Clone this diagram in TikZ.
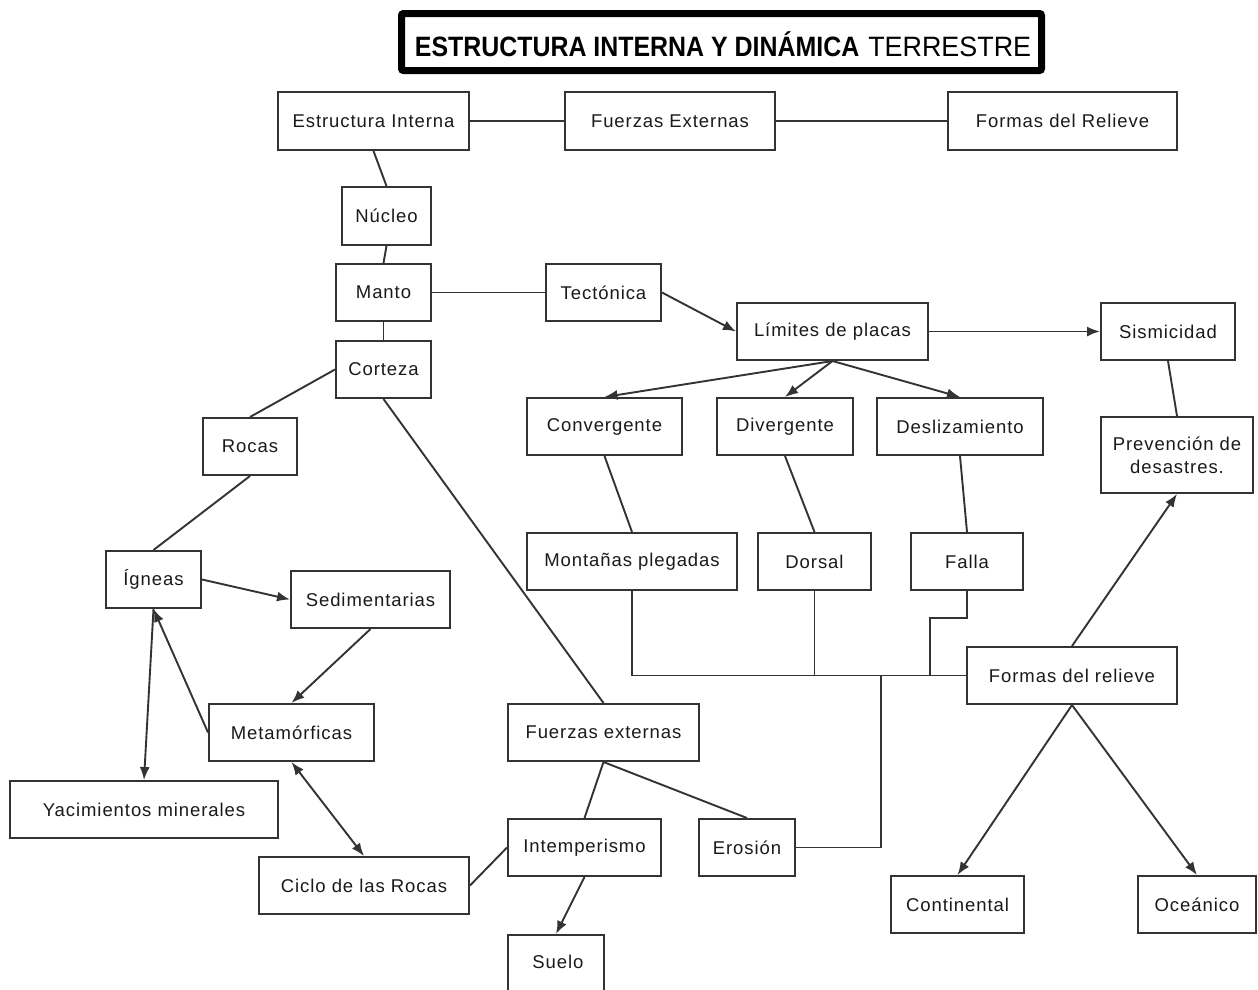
\documentclass[tikz,border=0pt]{standalone}
\usepackage{fontspec}
\setmainfont{Liberation Sans}
\newfontfamily\boxfont{Liberation Sans}[LetterSpace=5]
\usetikzlibrary{arrows.meta}
\definecolor{ink}{HTML}{1A1A1A}
\definecolor{edge}{HTML}{333333}
\begin{document}
\begin{tikzpicture}[x=1pt,y=-1pt,
  box/.style={draw=edge,line width=2pt,fill=white,inner sep=0pt,
    text=ink,font=\boxfont\fontsize{18.5}{23}\selectfont,align=center},
  link/.style={draw=edge,line width=1.9pt},
  arr/.style={link,-{Latex[length=13pt,width=10pt]}},
  biarr/.style={link,{Latex[length=13pt,width=10pt]}-{Latex[length=13pt,width=10pt]}}]
\useasboundingbox (0,0) rectangle (1258,989);
\clip (0,0) rectangle (1258,989);
\fill[white] (0,0) rectangle (1258,989);

% title banner
\draw[line width=7pt,rounded corners=2pt] (401.5,13.5) rectangle (1041.5,70.5);
\node[text=black,inner sep=0pt] (title) at (723,44)
  {\fontsize{28}{30}\selectfont\scalebox{0.89}[1]{\bfseries ESTRUCTURA INTERNA Y DIN\'AMICA}\hspace{9pt}\scalebox{0.96}[1]{TERRESTRE}};

% boxes: width/height in px
\newcommand\bx[6]{\node[box,minimum width=#4pt,minimum height=#5pt] (#1) at (#2,#3) {#6};}
\bx{estr}{373.5}{121}{191}{58}{Estructura Interna}
\bx{fext}{670}{121}{210}{58}{Fuerzas Externas}
\bx{frel}{1062.5}{121}{229}{58}{Formas del Relieve}
\bx{nucleo}{386.5}{216}{89}{58}{N\'ucleo}
\bx{manto}{383.5}{292.5}{95}{57}{Manto}
\bx{tect}{603.5}{292.5}{115}{57}{Tect\'onica}
\bx{lim}{832.5}{331.5}{191}{57}{L\'imites de placas}
\bx{sism}{1168}{331.5}{134}{57}{Sismicidad}
\bx{corteza}{383.5}{369.5}{95}{57}{Corteza}
\bx{rocas}{250}{446.5}{94}{57}{Rocas}
\bx{conv}{604.5}{426.5}{155}{57}{Convergente}
\bx{div}{785}{426.5}{136}{57}{Divergente}
\bx{desl}{960}{426.5}{166}{57}{Deslizamiento}
\bx{prev}{1177}{455}{152}{76}{Prevenci\'on de\\desastres.}
\bx{mont}{632}{561.5}{210}{57}{Monta\~nas plegadas}
\bx{dorsal}{814.5}{561.5}{113}{57}{Dorsal}
\bx{falla}{967}{561.5}{112}{57}{Falla}
\bx{igneas}{153.5}{579.5}{95}{57}{\'Igneas}
\bx{sedim}{370.5}{599.5}{159}{57}{Sedimentarias}
\bx{frel2}{1072}{675.5}{210}{57}{Formas del relieve}
\bx{meta}{291.5}{732.5}{165}{57}{Metam\'orficas}
\bx{fext2}{603.5}{732.5}{191}{57}{Fuerzas externas}
\bx{yac}{144}{809.5}{268}{57}{Yacimientos minerales}
\bx{intemp}{584.5}{847.5}{153}{57}{Intemperismo}
\bx{eros}{747}{847.5}{96}{57}{Erosi\'on}
\bx{ciclo}{364}{885.5}{210}{57}{Ciclo de las Rocas}
\bx{cont}{957.5}{904.5}{133}{57}{Continental}
\bx{ocea}{1197}{904.5}{118}{57}{Oce\'anico}
\node[box,minimum width=96pt,minimum height=62pt,anchor=north] (suelo) at (556,934) {};
\node[text=ink,font=\boxfont\fontsize{18.5}{23}\selectfont] (suelotxt) at (558,962) {Suelo};

% junction points of the bracket lines
\coordinate (jn) at (881,675.5);
\coordinate (fk) at (930,618);

% connectors
\draw[link] (estr.east) -- (fext.west);
\draw[link] (fext.east) -- (frel.west);
\draw[link] (estr.south) -- (nucleo.north);
\draw[link] (nucleo.south) -- (manto.north);
\draw[link] (manto.south) -- (corteza.north);
\draw[link] (manto.east) -- (tect.west);
\draw[arr] (tect.east) -- (lim.west);
\draw[arr] (lim.east) -- (sism.west);
\draw[arr] (lim.south) -- (conv.north);
\draw[arr] (lim.south) -- (div.north);
\draw[arr] (lim.south) -- (desl.north);
\draw[link] (sism.south) -- (prev.north);
\draw[link] (corteza.west) -- (rocas.north);
\draw[link] (rocas.south) -- (igneas.north);
\draw[link] (corteza.south) -- (fext2.north);
\draw[link] (conv.south) -- (mont.north);
\draw[link] (div.south) -- (dorsal.north);
\draw[link] (desl.south) -- (falla.north);
\draw[arr] (igneas.east) -- (sedim.west);
\draw[arr] (sedim.south) -- (meta.north);
\draw[arr] (meta.west) -- (igneas.south);
\draw[arr] (igneas.south) -- (yac.north);
\draw[biarr] (meta.south) -- (ciclo.north);
\draw[link] (ciclo.east) -- (intemp.west);
\draw[link] (fext2.south) -- (intemp.north);
\draw[link] (fext2.south) -- (eros.north);
\draw[arr] (intemp.south) -- (suelo.north);
\draw[link] (mont.south) |- (frel2.west);
\draw[link] (dorsal.south) -- (dorsal.south |- frel2.west);
\draw[link] (falla.south) |- (fk) -- (fk |- frel2.west);
\draw[link] (eros.east) -| (jn);
\draw[arr] (frel2.north) -- (prev.south);
\draw[arr] (frel2.south) -- (cont.north);
\draw[arr] (frel2.south) -- (ocea.north);
\end{tikzpicture}
\end{document}
